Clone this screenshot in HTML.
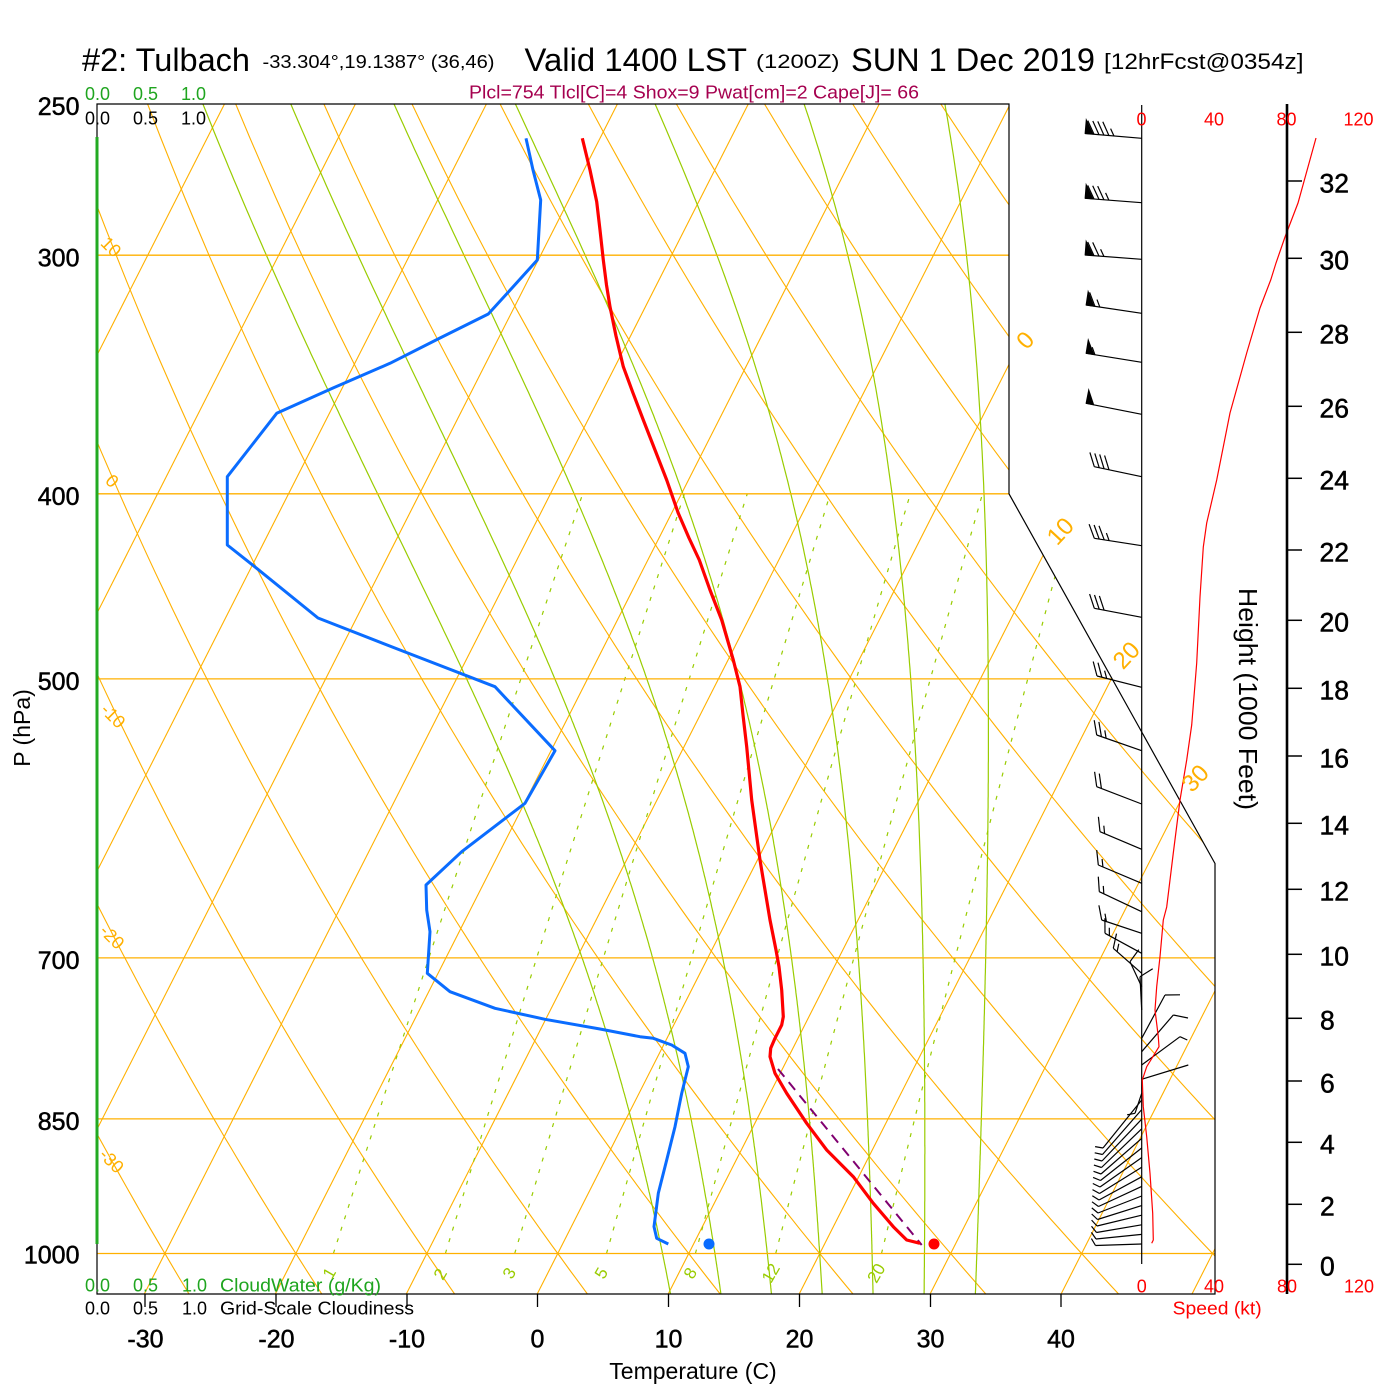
<!DOCTYPE html>
<html>
<head>
<meta charset="utf-8">
<style>
html,body{margin:0;padding:0;background:#ffffff;}
svg{display:block;}
text{font-family:"Liberation Sans",Arial,Helvetica,sans-serif;}
.tk{stroke:#000;stroke-width:0.5px;}
</style>
</head>
<body>
<svg id="s" width="1400" height="1400" viewBox="0 0 1400 1400" xmlns="http://www.w3.org/2000/svg">
<defs>
<clipPath id="cp"><polygon points="97,1294 1215,1294 1215,863.5 1009,493.8 1009,104 97,104"/></clipPath>
</defs>
<rect x="0" y="0" width="1400" height="1400" fill="#ffffff"/>

<!-- background lines -->
<g clip-path="url(#cp)" fill="none">
  <g id="iso" stroke="#ffb000" stroke-width="1.1">
    <line x1="-379.5" y1="1294" x2="224.5" y2="104"/>
    <line x1="-248.5" y1="1294" x2="355.4" y2="104"/>
    <line x1="-117.6" y1="1294" x2="486.4" y2="104"/>
    <line x1="13.4" y1="1294" x2="617.4" y2="104"/>
    <line x1="144.3" y1="1294" x2="748.3" y2="104"/>
    <line x1="275.3" y1="1294" x2="879.3" y2="104"/>
    <line x1="406.3" y1="1294" x2="1010.2" y2="104"/>
    <line x1="537.2" y1="1294" x2="1141.2" y2="104"/>
    <line x1="668.2" y1="1294" x2="1272.2" y2="104"/>
    <line x1="799.2" y1="1294" x2="1403.1" y2="104"/>
    <line x1="930.1" y1="1294" x2="1534.1" y2="104"/>
    <line x1="1061.1" y1="1294" x2="1665.1" y2="104"/>
    <line x1="1192.0" y1="1294" x2="1796.0" y2="104"/>
  </g>
  <g id="dry" stroke="#ffb000" stroke-width="1.1"></g>
  <g id="moist" stroke="#99cc00" stroke-width="1.2"></g>
  <g id="mix" stroke="#99cc00" stroke-width="1.2" stroke-dasharray="4 8"></g>
  <g stroke="#ffb000" stroke-width="1.3">
    <line x1="97" y1="255.2" x2="1215" y2="255.2"/>
    <line x1="97" y1="493.8" x2="1215" y2="493.8"/>
    <line x1="97" y1="678.9" x2="1215" y2="678.9"/>
    <line x1="97" y1="957.9" x2="1215" y2="957.9"/>
    <line x1="97" y1="1118.9" x2="1215" y2="1118.9"/>
    <line x1="97" y1="1253.5" x2="1215" y2="1253.5"/>
  </g>
</g>

<!-- frame -->
<polygon points="97,1294 1215,1294 1215,863.5 1009,493.8 1009,104 97,104" fill="none" stroke="#000" stroke-width="1.2"/>
<!-- cloud water line -->
<line x1="97" y1="137" x2="97" y2="1244" stroke="#22aa22" stroke-width="3"/>

<!-- bottom ticks -->
<g stroke="#000" stroke-width="1.3">
  <line x1="145" y1="1294" x2="145" y2="1307"/>
  <line x1="276" y1="1294" x2="276" y2="1307"/>
  <line x1="407" y1="1294" x2="407" y2="1307"/>
  <line x1="537.5" y1="1294" x2="537.5" y2="1307"/>
  <line x1="668.5" y1="1294" x2="668.5" y2="1307"/>
  <line x1="799.5" y1="1294" x2="799.5" y2="1307"/>
  <line x1="930.5" y1="1294" x2="930.5" y2="1307"/>
  <line x1="1061" y1="1294" x2="1061" y2="1307"/>
</g>

<!-- parcel dashed -->
<line x1="778" y1="1069" x2="921.7" y2="1245" stroke="#800070" stroke-width="2" stroke-dasharray="10 7"/>

<!-- dewpoint -->
<polyline fill="none" stroke="#0a6cff" stroke-width="3" stroke-linejoin="round" points="526,138.3 533,170 540.7,200 539,230 537.3,260 512,288 488.3,314 440,338 390,363.3 333,388 276.7,413.3 252,445 227.3,476.7 227.3,545 256.7,568.3 318,618 400,650 495,686.7 555,750.7 525,803.3 461.7,851.7 426,885 426.7,910 430,931.7 427.3,973.3 450,991.7 495,1008.3 545,1019.3 600,1029 640,1036.7 653.3,1038.3 671.7,1045 685,1053.3 688.3,1066.7 681.7,1093.3 675,1126.7 666.7,1160 658.3,1193.3 654,1226.7 656.7,1238.3 668.3,1244"/>
<!-- temperature -->
<polyline fill="none" stroke="#ff0000" stroke-width="3.2" stroke-linejoin="round" points="582.3,138.3 590,170 596.7,201.7 600,230 603.3,260 606.5,285 610,306.7 616,336 623.3,366.7 633,393 643.3,420 655,450 666.7,480 678.3,513.3 689,538 699.3,560 710,590 721.7,620 733.3,660 740,686.7 743,715 746.7,746.7 751.7,800 760,860 770,920 776,950 779,966.7 781.7,990 783.3,1016.7 781.7,1025 775,1038.3 770.7,1048.3 770,1056.7 775,1073.3 786.7,1093.3 806.7,1123.3 826.7,1150 853.3,1176.7 873.3,1203.3 893.3,1226.7 906.7,1240 920,1243.3"/>
<circle cx="709" cy="1244" r="5.5" fill="#0a6cff"/>
<circle cx="934" cy="1244" r="5.5" fill="#ff0000"/>

<!-- wind staff axis and barbs -->
<line x1="1141.7" y1="105" x2="1141.7" y2="1264" stroke="#000" stroke-width="1.2"/>
<g id="barbs" stroke="#000" stroke-width="1.2" fill="#000"></g>

<!-- wind speed profile -->
<polyline fill="none" stroke="#ff0000" stroke-width="1.2" points="1316,138 1298,203 1285,237 1276,263 1270.7,280 1260,308 1246.7,353 1230,413 1216.7,480 1206.7,523 1203.3,547 1200,597 1196.7,663 1191.7,725 1186.7,760 1180,800 1173.3,853 1166.7,907 1163.3,920 1160,956.7 1156.7,986.7 1155,1010 1158.3,1036.7 1159,1046.7 1146.7,1066.7 1142.3,1080 1143.3,1106.7 1146.7,1136.7 1150,1173.3 1152.7,1213.3 1153.3,1240 1151.7,1243.3"/>

<!-- height axis -->
<line x1="1287" y1="104" x2="1287" y2="1294" stroke="#000" stroke-width="2.6"/>
<g stroke="#000" stroke-width="1.5">
  <line x1="1287" y1="181" x2="1302" y2="181"/>
  <line x1="1287" y1="258.3" x2="1302" y2="258.3"/>
  <line x1="1287" y1="332.3" x2="1302" y2="332.3"/>
  <line x1="1287" y1="406.3" x2="1302" y2="406.3"/>
  <line x1="1287" y1="478.3" x2="1302" y2="478.3"/>
  <line x1="1287" y1="550" x2="1302" y2="550"/>
  <line x1="1287" y1="620.3" x2="1302" y2="620.3"/>
  <line x1="1287" y1="688.3" x2="1302" y2="688.3"/>
  <line x1="1287" y1="756" x2="1302" y2="756"/>
  <line x1="1287" y1="823.3" x2="1302" y2="823.3"/>
  <line x1="1287" y1="889.3" x2="1302" y2="889.3"/>
  <line x1="1287" y1="954.3" x2="1302" y2="954.3"/>
  <line x1="1287" y1="1018.3" x2="1302" y2="1018.3"/>
  <line x1="1287" y1="1081" x2="1302" y2="1081"/>
  <line x1="1287" y1="1142.3" x2="1302" y2="1142.3"/>
  <line x1="1287" y1="1204.3" x2="1302" y2="1204.3"/>
  <line x1="1287" y1="1264.3" x2="1302" y2="1264.3"/>
</g>
<g font-size="26.5" fill="#000" class="tk">
  <text x="1319.5" y="192.3">32</text>
  <text x="1319.5" y="269.6">30</text>
  <text x="1319.5" y="343.6">28</text>
  <text x="1319.5" y="417.6">26</text>
  <text x="1319.5" y="489.6">24</text>
  <text x="1319.5" y="561.3">22</text>
  <text x="1319.5" y="631.6">20</text>
  <text x="1319.5" y="699.6">18</text>
  <text x="1319.5" y="767.3">16</text>
  <text x="1319.5" y="834.6">14</text>
  <text x="1319.5" y="900.6">12</text>
  <text x="1319.5" y="965.6">10</text>
  <text x="1320" y="1029.6">8</text>
  <text x="1320" y="1092.3">6</text>
  <text x="1320" y="1153.6">4</text>
  <text x="1320" y="1215.6">2</text>
  <text x="1320" y="1275.6">0</text>
</g>
<text transform="translate(1239,588) rotate(90)" font-size="26" fill="#000" textLength="222" lengthAdjust="spacingAndGlyphs">Height (1000 Feet)</text>

<!-- speed labels -->
<g font-size="18" fill="#ff0000" text-anchor="middle">
  <text x="1141.5" y="125.5">0</text>
  <text x="1214" y="125.5">40</text>
  <text x="1286.5" y="125.5">80</text>
  <text x="1358.5" y="125.5">120</text>
  <text x="1141.7" y="1292.5">0</text>
  <text x="1214" y="1292.5">40</text>
  <text x="1287" y="1292.5">80</text>
  <text x="1359" y="1292.5">120</text>
</g>
<text x="1172.7" y="1314.3" font-size="18" fill="#ff0000" textLength="89" lengthAdjust="spacingAndGlyphs">Speed (kt)</text>

<!-- title -->
<text x="82" y="71" font-size="32" fill="#000" textLength="168" lengthAdjust="spacingAndGlyphs">#2: Tulbach</text>
<text x="262.5" y="68" font-size="18" fill="#000" textLength="232" lengthAdjust="spacingAndGlyphs">-33.304°,19.1387° (36,46)</text>
<text x="524.5" y="71" font-size="32" fill="#000" textLength="222.5" lengthAdjust="spacingAndGlyphs">Valid 1400 LST</text>
<text x="756" y="68" font-size="19" fill="#000" textLength="83.5" lengthAdjust="spacingAndGlyphs">(1200Z)</text>
<text x="851" y="71" font-size="32" fill="#000" textLength="244" lengthAdjust="spacingAndGlyphs">SUN 1 Dec 2019</text>
<text x="1104" y="69" font-size="22" fill="#000" textLength="199.5" lengthAdjust="spacingAndGlyphs">[12hrFcst@0354z]</text>
<text x="469" y="98.5" font-size="18" fill="#a5004f" textLength="450" lengthAdjust="spacingAndGlyphs">Plcl=754 Tlcl[C]=4 Shox=9 Pwat[cm]=2 Cape[J]= 66</text>

<!-- cloud scale labels -->
<g font-size="18" fill="#1fa51f">
  <text x="85" y="100">0.0</text>
  <text x="133" y="100">0.5</text>
  <text x="181" y="100">1.0</text>
  <text x="85" y="1291.7">0.0</text>
  <text x="133" y="1291.7">0.5</text>
  <text x="182" y="1291.7">1.0</text>
</g>
<text x="220" y="1291.7" font-size="18" fill="#1fa51f" textLength="161" lengthAdjust="spacingAndGlyphs">CloudWater (g/Kg)</text>
<g font-size="18" fill="#000">
  <text x="85" y="124.3">0.0</text>
  <text x="133" y="124.3">0.5</text>
  <text x="181" y="124.3">1.0</text>
  <text x="85" y="1314.3">0.0</text>
  <text x="133" y="1314.3">0.5</text>
  <text x="182" y="1314.3">1.0</text>
</g>
<text x="220" y="1314.3" font-size="18" fill="#000" textLength="194" lengthAdjust="spacingAndGlyphs">Grid-Scale Cloudiness</text>

<!-- pressure labels -->
<g font-size="25" fill="#000" text-anchor="end" class="tk">
  <text x="79.5" y="115">250</text>
  <text x="79.5" y="266.5">300</text>
  <text x="79.5" y="505">400</text>
  <text x="79.5" y="690">500</text>
  <text x="79.5" y="969">700</text>
  <text x="79.5" y="1130">850</text>
  <text x="79.5" y="1263.3">1000</text>
</g>
<text transform="translate(30,728) rotate(-90)" font-size="23" fill="#000" text-anchor="middle">P (hPa)</text>

<!-- temperature labels -->
<g font-size="25" fill="#000" text-anchor="middle" class="tk">
  <text x="145.5" y="1347.3">-30</text>
  <text x="276.5" y="1347.3">-20</text>
  <text x="407" y="1347.3">-10</text>
  <text x="537.5" y="1347.3">0</text>
  <text x="668.5" y="1347.3">10</text>
  <text x="799.5" y="1347.3">20</text>
  <text x="930.5" y="1347.3">30</text>
  <text x="1061" y="1347.3">40</text>
</g>
<text x="693" y="1379" font-size="23" fill="#000" text-anchor="middle">Temperature (C)</text>

<!-- dry adiabat labels (left) -->
<g font-size="18" fill="#ffb000" text-anchor="middle">
  <text transform="translate(111,247) rotate(45)" dy="6">10</text>
  <text transform="translate(112,481) rotate(45)" dy="6">0</text>
  <text transform="translate(113,716) rotate(45)" dy="6">-10</text>
  <text transform="translate(112,937) rotate(45)" dy="6">-20</text>
  <text transform="translate(111.5,1161) rotate(45)" dy="6">-30</text>
</g>
<!-- isotherm labels (right) -->
<g font-size="24" fill="#ffb000" text-anchor="middle">
  <text transform="translate(1025,340) rotate(-47)" dy="8.5">0</text>
  <text transform="translate(1060,531) rotate(-47)" dy="8.5">10</text>
  <text transform="translate(1126,655) rotate(-47)" dy="8.5">20</text>
  <text transform="translate(1195,778) rotate(-47)" dy="8.5">30</text>
</g>
<!-- mixing ratio labels -->
<g font-size="17" fill="#99cc00" text-anchor="middle">
  <text transform="translate(329,1273) rotate(-60)" dy="6">1</text>
  <text transform="translate(440,1274) rotate(-60)" dy="6">2</text>
  <text transform="translate(509,1273) rotate(-60)" dy="6">3</text>
  <text transform="translate(601,1273) rotate(-60)" dy="6">5</text>
  <text transform="translate(690,1273) rotate(-60)" dy="6">8</text>
  <text transform="translate(770.5,1273) rotate(-60)" dy="6">12</text>
  <text transform="translate(876,1273) rotate(-60)" dy="6">20</text>
</g>

<script>
(function(){
var NS="http://www.w3.org/2000/svg";
function Yp(p){return 132.182-44.061*Math.log(p)/Math.LN10;}
function PX(X){return 97+(X+19)*24.252;}
function PY(Y){return 1294-(Y+0.9346217)*43.335;}
function pt(T,p){var Y=Yp(p);return [PX(0.54*T+0.90692*Y),PY(Y)];}
function poly(g,pts){var e=document.createElementNS(NS,"polyline");e.setAttribute("points",pts.map(function(a){return a[0].toFixed(1)+","+a[1].toFixed(1);}).join(" "));document.getElementById(g).appendChild(e);}
// dry adiabats
for(var th=-30;th<=150;th+=10){var pts=[];for(var p=1050;p>=250;p-=10){var T=(th+273.15)*Math.pow(p/1000,0.2857)-273.15;pts.push(pt(T,p));}poly("dry",pts);}
// mixing ratio
[1,2,3,5,8,12,20].forEach(function(w){var pts=[];for(var p=1000;p>=400;p-=10){var e=w*p/(622+w);var l=Math.log(e/6.112);var T=243.5*l/(17.67-l);pts.push(pt(T,p));}poly("mix",pts);});
// moist adiabats
function es(T){return 6.112*Math.exp(17.67*T/(T+243.5));}
function dTdp(TK,p){var e=es(TK-273.15);var rs=0.622*e/(p-e);var Rd=287.04,cp=1005.7,L=2.501e6;return ((Rd*TK+L*rs)/p)/(cp+L*L*rs*0.622/(Rd*TK*TK));}
[8,12,16,20,24,28,32].forEach(function(tw){
  var up=[],T=tw+273.15,p=1000,dp=-2,k1,k2;up.push(pt(T-273.15,p));
  while(p>250.5){k1=dTdp(T,p);k2=dTdp(T+k1*dp,p+dp);T+=0.5*(k1+k2)*dp;p+=dp;up.push(pt(T-273.15,p));}
  var dn=[];T=tw+273.15;p=1000;dp=2;
  while(p<1049.5){k1=dTdp(T,p);k2=dTdp(T+k1*dp,p+dp);T+=0.5*(k1+k2)*dp;p+=dp;dn.push(pt(T-273.15,p));}
  poly("moist",dn.reverse().concat(up));
});
// wind barbs
var G=document.getElementById("barbs");
function ln(x1,y1,x2,y2){var e=document.createElementNS(NS,"line");e.setAttribute("x1",x1.toFixed(1));e.setAttribute("y1",y1.toFixed(1));e.setAttribute("x2",x2.toFixed(1));e.setAttribute("y2",y2.toFixed(1));G.appendChild(e);}
function pg(a){var e=document.createElementNS(NS,"polygon");e.setAttribute("points",a.map(function(q){return q[0].toFixed(1)+","+q[1].toFixed(1);}).join(" "));e.setAttribute("stroke-width","0.8");G.appendChild(e);}
function barb(by,tx,ty,els){
  var bx=1141.7,dx=tx-bx,dy=ty-by,L=Math.sqrt(dx*dx+dy*dy),ux=dx/L,uy=dy/L;
  ln(bx,by,tx,ty);
  var a=61*Math.PI/180,c=Math.cos(a),s=Math.sin(a);
  var fx=ux*c-uy*s,fy=ux*s+uy*c,nx=-uy,ny=ux,d=0;
  els.forEach(function(e){
    var ax=tx-ux*d,ay=ty-uy*d;
    if(e==="P"){pg([[ax,ay],[ax+nx*14,ay+ny*14],[ax-ux*8,ay-uy*8]]);d+=9;}
    else if(e==="F"){ln(ax,ay,ax+fx*15,ay+fy*15);d+=5;}
    else {ln(ax,ay,ax+fx*8,ay+fy*8);d+=5;}
  });
}
barb(138.3,1085,133.5,["P","F","F","F","F","H"]);
barb(202.7,1085,198.3,["P","F","F","F","H"]);
barb(259.3,1085,255,["P","F","F","H"]);
barb(313.3,1086,305,["P","F","H"]);
barb(362.3,1086,353.3,["P","H"]);
barb(414.3,1086,403.3,["P"]);
barb(476.7,1094.3,466.7,["F","F","F","F"]);
barb(545.7,1094.3,538.3,["F","F","F","H"]);
barb(617.3,1094.3,608.3,["F","F","F"]);
barb(687.3,1097,676,["F","F","H"]);
barb(750.7,1096.7,735,["F","F","H"]);
barb(804,1096.7,786.7,["F","F"]);
barb(849.3,1100,831.7,["F","H"]);
barb(883.3,1098.3,865,["F","H"]);
barb(911.7,1099.3,891.7,["F","H"]);
barb(933.3,1101.7,920,["F","H"]);
barb(953.3,1105,933.3,["F","H"]);
barb(973.3,1113.3,948.3,["F","H"]);
barb(986.7,1130,961.7,["F"]);
barb(1010,1140,976.7,["F"]);
barb(1038.3,1165,995,["F"]);
barb(1051.7,1173.3,1015,["F"]);
barb(1065,1180,1036.7,["H"]);
barb(1079.3,1188.3,1065,[]);
barb(1093.3,1135,1113.3,["H"]);
for(var i=0;i<16;i++){
  var by=1100+i*9.6, tx=1103-i*0.5, ty=1148+i*6.5;
  barb(by,tx,ty,["H"]);
}
})();
</script>
</svg>
</body>
</html>
